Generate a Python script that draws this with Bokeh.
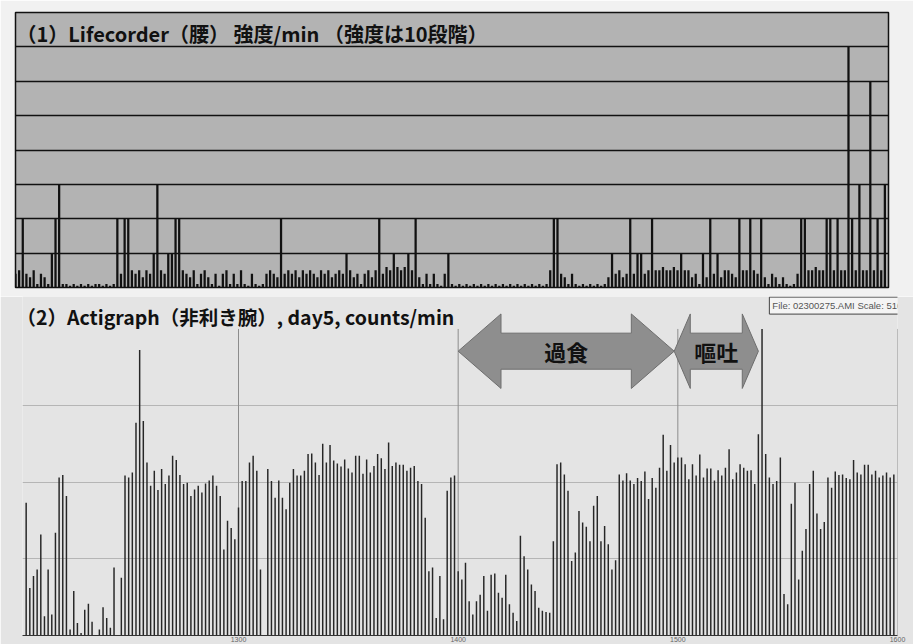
from bokeh.plotting import figure
from bokeh.layouts import column
from bokeh.models import Range1d, FixedTicker, Label, ColumnDataSource
from bokeh.embed import file_html
from bokeh.resources import INLINE

# ---------------- data ----------------
# (1) Lifecorder intensity per minute, 12:00 .. 15:59 (minute-of-day 720..959)
lc_start_min = 720
lc_levels = [
    0.4, 0.5, 2, 0.4, 0.3, 0.5, 0.1, 0.4, 0.3, 0.1,
    1, 2, 3, 0.1, 0.1, 0.05, 0.1, 0.05, 0.1, 0.05,
    0.1, 0.05, 0.1, 0.1, 0.05, 0.1, 0.05, 0.1, 2, 0.4,
    2, 2, 0.5, 0.4, 0.5, 0.3, 0.5, 0.4, 1, 3,
    0.5, 0.4, 1, 1, 2, 2, 0.5, 0.4, 0.3, 0.5,
    0.1, 0.4, 0.5, 0.3, 0.1, 0.4, 0.05, 0.4, 0.5, 0.1,
    0.4, 0.1, 0.5, 0.1, 0.05, 0.4, 0.1, 0.05, 0.1, 0.4,
    0.5, 0.4, 0.3, 2, 0.4, 0.5, 0.4, 0.5, 0.3, 0.5,
    0.4, 0.5, 0.4, 0.3, 0.5, 0.4, 0.5, 0.3, 0.4, 0.5,
    0.4, 1, 0.5, 0.3, 0.4, 0.1, 0.4, 0.5, 0.3, 0.5,
    2, 0.4, 0.6, 0.5, 1, 0.6, 0.5, 0.6, 1, 0.5,
    2, 0.3, 0.1, 0.4, 0.1, 0.4, 0.1, 0.05, 0.4, 1,
    0.1, 0.05, 0.1, 0.05, 0.1, 0.05, 0.1, 0.05, 0.1, 0.05,
    0.1, 0.05, 0.1, 0.05, 0.1, 0.05, 0.1, 0.05, 0.1, 0.05,
    0.1, 0.05, 0.1, 0.05, 0.1, 0.05, 0.1, 0.5, 2, 2,
    0.4, 0.3, 0.1, 0.4, 0.1, 0.05, 0.1, 0.05, 0.1, 0.05,
    0.1, 0.05, 0.1, 0.3, 1, 0.4, 0.5, 0.3, 0.4, 2,
    0.4, 1, 1, 0.4, 0.5, 2, 0.5, 0.5, 0.6, 0.5,
    0.5, 0.6, 0.5, 1, 0.5, 0.5, 0.3, 0.4, 0.1, 1,
    0.3, 2, 0.4, 1, 0.3, 0.5, 0.5, 0.4, 0.3, 2,
    0.5, 0.5, 2, 0.5, 0.4, 2, 0.3, 0.1, 0.4, 0.3,
    0.1, 0.3, 0.1, 0.05, 0.1, 0.4, 2, 2, 0.5, 0.5,
    0.6, 0.5, 0.5, 2, 2, 0.5, 2, 0.5, 0.5, 7,
    2, 0.5, 3, 0.5, 0.5, 6, 0.5, 2, 0.5, 3,
]
lc_grid_levels = [1, 2, 3, 4, 5, 6, 7]

# (2) Actigraph counts per minute, starting 12:02
ag_start_min = 722
ag_counts = [
    221, 79, 99, 110, 168, 32, 110, 35, 171, 263,
    267, 232, 10, 74, 21, 4, 43, 53, 23, 0,
    10, 47, 29, 13, 113, 0, 96, 266, 263, 271,
    354, 475, 357, 288, 249, 274, 242, 277, 252, 266,
    299, 292, 267, 252, 254, 232, 243, 249, 238, 253,
    258, 266, 249, 232, 143, 191, 179, 160, 213, 257,
    257, 288, 299, 274, 110, 0, 277, 257, 229, 258,
    229, 210, 254, 277, 266, 266, 274, 302, 303,
    288, 267, 319, 288, 317, 291, 286, 281, 293, 278,
    271, 299, 299, 269, 293, 271, 282, 302, 295, 277,
    321, 282, 288, 284, 284, 274, 279, 282, 257, 252,
    196, 107, 113, 29, 99, 27, 241, 263, 266,
    107, 93, 121, 57, 35, 57, 68, 99, 41, 101,
    103, 71, 63, 101, 52, 38, 24, 166, 132, 110,
    85, 74, 46, 41, 39, 38, 157, 285, 288, 268,
    241, 124, 138, 207, 188, 181, 157, 216, 232, 157,
    182, 152,
    110, 125, 268, 258, 270, 258, 252, 262, 257, 273,
    227, 262, 246, 279, 334, 274, 317, 288, 296,
    296, 285, 260, 285, 266, 301, 263, 278, 278, 258,
    275, 266, 279, 310, 260, 271, 285, 279, 274, 275,
    252, 335, 510, 302, 263, 252, 257, 296, 69, 52,
    219, 254, 93, 141, 177, 252, 274, 203, 177, 189,
    263, 246, 273, 267, 268, 262, 260, 292, 271, 268,
    284, 284, 268, 274, 263, 266, 271, 263, 268,
]
ag_scale_max = 510
hour_ticks = [780, 840, 900, 960]
hour_labels = ["1300", "1400", "1500", "1600"]

event_names = ["過食", "嘔吐"]
event_start = [840, 899]
event_end = [899, 922]

title1 = "（1）Lifecorder（腰） 強度/min （強度は10段階）"
title2 = "（2）Actigraph（非利き腕）, day5, counts/min"
file_text = "File: 02300275.AMI  Scale: 510"

JP = "Noto Sans CJK JP"

# ---------------- panel 1 ----------------
top = figure(width=913, height=296,
             x_range=Range1d(720, 960), y_range=Range1d(0, 8),
             x_axis_location=None, y_axis_location=None,
             output_backend="svg", toolbar_location=None,
             min_border_left=15, min_border_right=25,
             min_border_top=12, min_border_bottom=9)
top.frame_align = False
top.background_fill_color = "#b3b3b3"
top.border_fill_color = "#f1f1f1"
top.outline_line_color = "#111111"
top.outline_line_width = 1.5
top.xgrid.visible = False
top.ygrid.ticker = FixedTicker(ticks=lc_grid_levels)
top.ygrid.grid_line_color = "#111111"
top.ygrid.grid_line_width = 1.5

lc_src = ColumnDataSource(dict(
    t=[lc_start_min + i for i in range(len(lc_levels))],
    v=lc_levels))
top.vbar(x="t", top="v", bottom=0, width=0.62, source=lc_src,
         fill_color="#111111", line_color=None)

top.add_layout(Label(x=720, y=7.38, x_offset=1, text=title1, text_font=JP,
                     text_font_size="20px", text_font_style="bold",
                     text_color="#111111", text_baseline="middle"))

# ---------------- panel 2 ----------------
bot = figure(width=913, height=348,
             x_range=Range1d(721, 960), y_range=Range1d(0, 564),
             y_axis_location=None,
             output_backend="svg", toolbar_location=None,
             min_border_left=22, min_border_right=16,
             min_border_top=0, min_border_bottom=0)
bot.frame_align = False
bot.background_fill_color = "#e4e4e4"
bot.border_fill_color = "#e4e4e4"
bot.outline_line_color = None
bot.xgrid.visible = False
bot.ygrid.ticker = FixedTicker(ticks=[ag_scale_max * k / 4 for k in (1, 2, 3)])
bot.ygrid.grid_line_color = "#b5b5b5"
bot.ygrid.grid_line_width = 1

xa = bot.xaxis[0]
xa.ticker = FixedTicker(ticks=hour_ticks)
xa.major_label_overrides = {t: l for t, l in zip(hour_ticks, hour_labels)}
xa.major_label_text_font = "Liberation Sans"
xa.major_label_text_font_size = "7px"
xa.major_label_text_color = "#666666"
xa.major_label_standoff = 1
xa.major_tick_out = 0
xa.major_tick_in = 0
xa.major_tick_line_color = None
xa.minor_tick_line_color = None
xa.axis_line_color = "#333333"

# hour gridlines (only up to the scale maximum)
bot.segment(x0=hour_ticks, x1=hour_ticks, y0=[0] * len(hour_ticks),
            y1=[ag_scale_max] * len(hour_ticks), line_color="#8c8c8c",
            line_width=1)

ag_src = ColumnDataSource(dict(
    t=[ag_start_min + i for i in range(len(ag_counts))],
    v=ag_counts))
bot.vbar(x="t", top="v", bottom=0, width=0.4, source=ag_src,
         fill_color="#262626", line_color=None)

# event double arrows
yc, hh, sh = 473, 62, 30
heads = [11.7, 4.4]
xs_list, ys_list = [], []
for x0, x1, hd in zip(event_start, event_end, heads):
    xs_list.append([x0, x0 + hd, x0 + hd, x1 - hd, x1 - hd, x1,
                    x1 - hd, x1 - hd, x0 + hd, x0 + hd])
    ys_list.append([yc, yc + hh, yc + sh, yc + sh, yc + hh, yc,
                    yc - hh, yc - sh, yc - sh, yc - hh])
bot.patches(xs_list, ys_list, fill_color="#8e8e8e", line_color="#6e6e6e",
            line_width=1)
for name, x0, x1 in zip(event_names, event_start, event_end):
    bot.add_layout(Label(x=(x0 + x1) / 2, y=yc, text=name, text_font=JP,
                         text_font_size="22px", text_font_style="bold",
                         text_color="#111111", text_align="center",
                         text_baseline="middle"))

bot.add_layout(Label(x=721, y=530, x_offset=-6, text=title2, text_font=JP,
                     text_font_size="19.5px", text_font_style="bold",
                     text_color="#111111", text_baseline="middle"))

bot.add_layout(Label(x=925, y=563, text=file_text, text_font="Liberation Sans",
                     text_font_size="9.5px", text_color="#555555",
                     text_baseline="top", background_fill_color="#f4f4f4",
                     border_line_color="#444444", border_line_width=1,
                     padding=3))

page = column(top, bot, spacing=0)
open("out.html", "w").write(file_html(page, INLINE))
